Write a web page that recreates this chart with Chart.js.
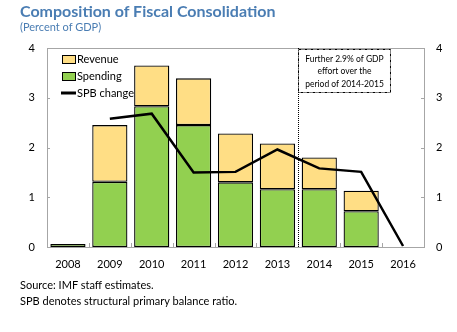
<!DOCTYPE html>
<html>
<head>
<meta charset="utf-8">
<script src="https://cdn.jsdelivr.net/npm/chart.js@4/dist/chart.umd.min.js"></script>
<style>
  body { margin: 0; background: #fff; }
  #wrap { position: relative; width: 457px; height: 332px; }
  #chart { position: absolute; left: 0; top: 0; }
  .t { position: absolute; left: 20px; white-space: nowrap; }
  #title { top: 1px; font: bold 16px Lato, sans-serif; color: #4a7db3; }
  #sub { top: 20px; font: 11px Lato, sans-serif; color: #4a7db3; }
  #src { top: 278px; font: 11px Lato, sans-serif; color: #000; }
  #note { top: 294px; font: 11px Lato, sans-serif; color: #000; }
</style>
</head>
<body>
<div id="wrap">
  <canvas id="chart" width="457" height="332"></canvas>
  <div class="t" id="title">Composition of Fiscal Consolidation</div>
  <div class="t" id="sub">(Percent of GDP)</div>
  <div class="t" id="src">Source: IMF staff estimates.</div>
  <div class="t" id="note">SPB denotes structural primary balance ratio.</div>
</div>
<script>
var years = ["2008", "2009", "2010", "2011", "2012", "2013", "2014", "2015", "2016"];
var spending = [0.06, 1.31, 2.83, 2.45, 1.30, 1.16, 1.16, 0.72, null];
var revenue = [null, 1.14, 0.82, 0.94, 0.98, 0.92, 0.64, 0.41, null];
var spbChange = [null, 2.58, 2.68, 1.50, 1.51, 1.96, 1.58, 1.51, 0.02];
var yTicks = [0, 1, 2, 3, 4];
var noteLines = ["Further 2.9% of GDP", "effort over the", "period of 2014-2015"];

var revColor = "#ffde85";
var spendColor = "#92d050";
var axisGrey = "#a6a6a6";

// frame, inside ticks, legend and the 2014-2015 note
var extras = {
  id: "extras",
  afterDraw(chart) {
    var ctx = chart.ctx;
    var a = chart.chartArea;
    var x = chart.scales.x;
    var y = chart.scales.y;
    ctx.save();

    ctx.strokeStyle = axisGrey;
    ctx.lineWidth = 1;
    ctx.beginPath();
    ctx.moveTo(a.left, a.top + 0.5);
    ctx.lineTo(a.right, a.top + 0.5);
    yTicks.forEach(v => {
      var py = Math.round(y.getPixelForValue(v)) + 0.5;
      ctx.moveTo(a.left, py); ctx.lineTo(a.left + 3, py);
      ctx.moveTo(a.right, py); ctx.lineTo(a.right - 3, py);
    });
    for (var i = 1; i < years.length; i++) {
      var px = Math.round(x.getPixelForValue(i - 0.5)) + 0.5;
      ctx.moveTo(px, a.bottom); ctx.lineTo(px, a.bottom - 4);
    }
    ctx.stroke();

    // dotted separator between 2013 and 2014
    var sx = Math.round(x.getPixelForValue(5.5)) + 0.5;
    ctx.strokeStyle = "#000";
    ctx.setLineDash([1, 1]);
    ctx.beginPath();
    ctx.moveTo(sx, a.top);
    ctx.lineTo(sx, a.bottom);
    ctx.stroke();

    // note box
    var bx = sx, by = a.top + 1, bw = x.getPixelForValue(7.7) - sx, bh = 43;
    ctx.fillStyle = "#fff";
    ctx.fillRect(bx, by, bw, bh);
    ctx.setLineDash([3, 1, 1, 1]);
    ctx.strokeRect(bx, by + 0.5, bw, bh);
    ctx.setLineDash([]);
    ctx.fillStyle = "#000";
    ctx.font = "8.5px Lato, sans-serif";
    ctx.textAlign = "center";
    ctx.textBaseline = "middle";
    noteLines.forEach((s, k) => ctx.fillText(s, bx + bw / 2, by + 10 + k * 12.5));

    // legend
    var lx = a.left + 15, ly = a.top + 11;
    var items = [
      { label: "Revenue", fill: revColor },
      { label: "Spending", fill: spendColor },
      { label: "SPB change", line: true }
    ];
    ctx.font = "11px Lato, sans-serif";
    ctx.textAlign = "left";
    items.forEach((it, k) => {
      var cy = ly + k * 17;
      if (it.line) {
        ctx.strokeStyle = "#000";
        ctx.lineWidth = 3;
        ctx.beginPath();
        ctx.moveTo(lx - 1, cy);
        ctx.lineTo(lx + 14, cy);
        ctx.stroke();
      } else {
        ctx.fillStyle = it.fill;
        ctx.fillRect(lx, cy - 4, 13, 8);
        ctx.strokeStyle = "#000";
        ctx.lineWidth = 1;
        ctx.strokeRect(lx + 0.5, cy - 3.5, 13, 8);
      }
      ctx.fillStyle = "#000";
      ctx.fillText(it.label, lx + 15, cy);
    });
    ctx.restore();
  }
};

new Chart("chart", {
  type: "bar",
  data: {
    labels: years,
    datasets: [
      {
        type: "line",
        label: "SPB change",
        data: spbChange,
        borderColor: "#000",
        borderWidth: 2.5,
        pointRadius: 0,
        tension: 0,
        fill: false,
        yAxisID: "y",
        order: 0
      },
      {
        label: "Spending",
        data: spending,
        backgroundColor: spendColor,
        borderColor: "#000",
        borderWidth: 1.3,
        borderSkipped: false,
        stack: "s",
        categoryPercentage: 1,
        barPercentage: 0.84,
        order: 1
      },
      {
        label: "Revenue",
        data: revenue,
        backgroundColor: revColor,
        borderColor: "#000",
        borderWidth: 1.3,
        borderSkipped: false,
        stack: "s",
        categoryPercentage: 1,
        barPercentage: 0.84,
        order: 1
      }
    ]
  },
  options: {
    responsive: false,
    animation: false,
    devicePixelRatio: 1,
    layout: { padding: { left: 0, right: 0, top: 48, bottom: 0 } },
    plugins: {
      legend: { display: false },
      tooltip: { enabled: false }
    },
    scales: {
      x: {
        stacked: true,
        offset: true,
        grid: { display: false, drawTicks: false },
        border: { color: axisGrey, width: 1 },
        ticks: { color: "#000", font: { family: "Lato", size: 11 }, padding: 11, maxRotation: 0 },
        afterFit(s) { s.height = 85; }
      },
      y: {
        position: "left",
        stacked: true,
        min: 0, max: 4,
        grid: { display: false, drawTicks: false },
        border: { color: axisGrey, width: 1 },
        ticks: { stepSize: 1, color: "#000", font: { family: "Lato", size: 11 }, padding: 12 },
        afterFit(s) { s.width = 47; }
      },
      y2: {
        position: "right",
        min: 0, max: 4,
        grid: { display: false, drawTicks: false },
        border: { color: axisGrey, width: 1 },
        ticks: { stepSize: 1, color: "#000", font: { family: "Lato", size: 11 }, padding: 12 },
        afterFit(s) { s.width = 33; }
      }
    }
  },
  plugins: [extras]
});
</script>
</body>
</html>
